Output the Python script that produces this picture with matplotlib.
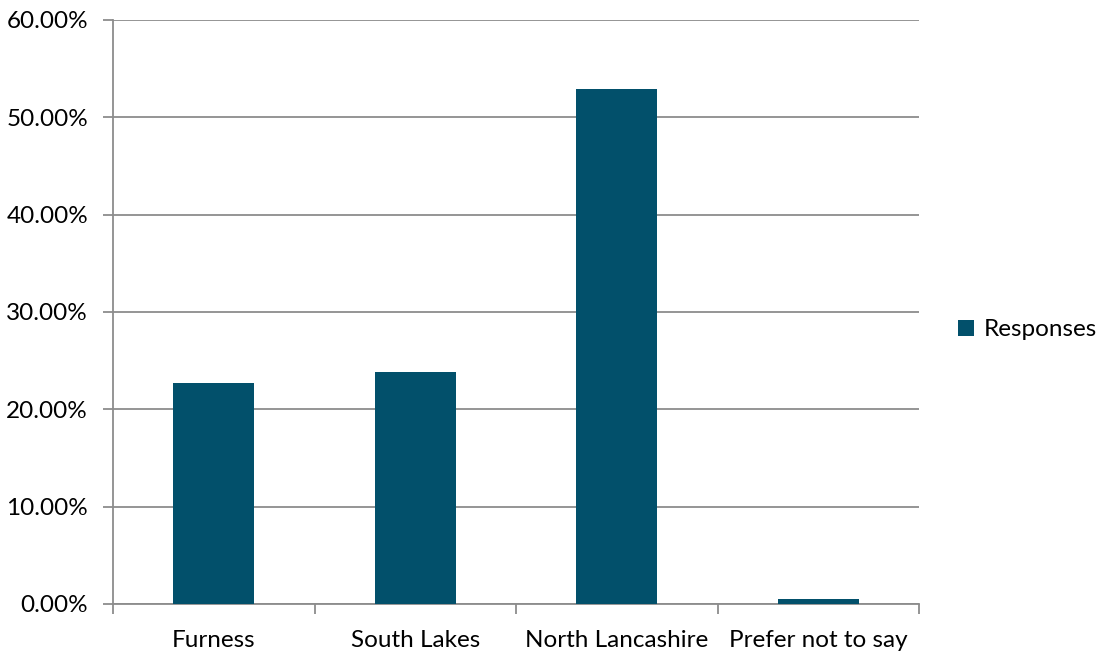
import matplotlib
matplotlib.use("Agg")
import matplotlib.pyplot as plt
from matplotlib.ticker import FuncFormatter, FixedLocator
from matplotlib.patches import Patch

categories = ["Furness", "South Lakes", "North Lancashire", "Prefer not to say"]
responses = [22.74, 23.8, 52.92, 0.47]
series_name = "Responses"

plt.rcParams['font.family'] = ['Lato', 'DejaVu Sans']

fig = plt.figure(figsize=(11.01, 6.54), dpi=100)
ax = fig.add_axes([113/1101, 1-604/654, (919-113)/1101, 584/654])

color = "#02506B"
x = list(range(len(categories)))
ax.bar(x, responses, width=0.4, color=color, zorder=3)

ax.set_xlim(-0.5, len(categories)-0.5)
ax.set_ylim(0, 60)
ax.set_yticks([0, 10, 20, 30, 40, 50, 60])
ax.yaxis.set_major_formatter(FuncFormatter(lambda v, p: f"{v:.2f}%"))
ax.grid(axis='y', color='#8c8c8c', linewidth=1.3, zorder=0)

ax.set_xticks(x)
ax.set_xticklabels(categories)
ax.xaxis.set_minor_locator(FixedLocator([i - 0.5 for i in range(len(categories)+1)]))
ax.tick_params(axis='x', which='major', length=0, labelsize=17.5, pad=19)
ax.tick_params(axis='x', which='minor', length=7, width=1.3, color='#8c8c8c', direction='out')
ax.tick_params(axis='y', length=7, width=1.3, color='#8c8c8c', labelsize=17.5, pad=11)

for s in ['top', 'right']:
    ax.spines[s].set_visible(False)
for s in ['left', 'bottom']:
    ax.spines[s].set_color('#8c8c8c')
    ax.spines[s].set_linewidth(1.3)

leg = fig.legend(handles=[Patch(facecolor=color, label=series_name)],
                 loc='center left', bbox_to_anchor=(958/1101, 1-330/654),
                 frameon=False, fontsize=17.5, handlelength=0.65, handleheight=0.65,
                 handletextpad=0.4, borderaxespad=0, borderpad=0)

fig.savefig("out.png", dpi=100)
